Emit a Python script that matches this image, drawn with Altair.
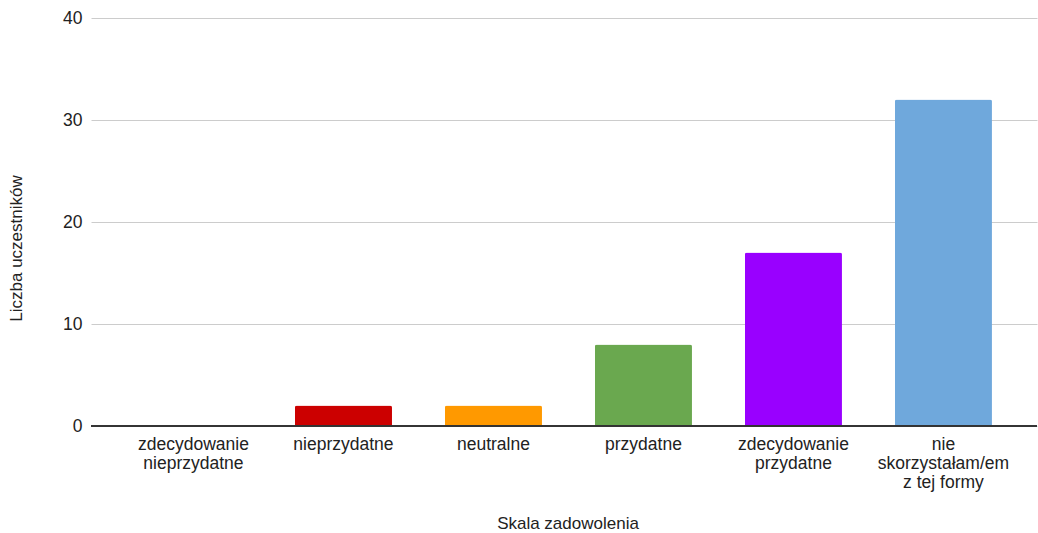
import altair as alt
import pandas as pd

categories = [
    "zdecydowanie|nieprzydatne",
    "nieprzydatne",
    "neutralne",
    "przydatne",
    "zdecydowanie|przydatne",
    "nie|skorzystałam/em|z tej formy",
]
values = [0, 2, 2, 8, 17, 32]
colors = ["#e06666", "#cc0000", "#ff9900", "#6aa84f", "#9900ff", "#6fa8dc"]
y_ticks = [0, 10, 20, 30, 40]

df = pd.DataFrame({"kategoria": categories, "liczba": values})

FONT = "Liberation Sans"
LFS = 17.5
TFS = 17

bars = alt.Chart(df).mark_bar(cornerRadiusTopLeft=2, cornerRadiusTopRight=2).encode(
    x=alt.X(
        "kategoria:N",
        sort=categories,
        scale=alt.Scale(paddingInner=0.353, paddingOuter=0.33, align=0.545),
        axis=alt.Axis(
            title="Skala zadowolenia",
            labelAngle=0,
            labelExpr="split(datum.label, '|')",
            labelLineHeight=19,
            labelPadding=9,
            labelFontSize=LFS,
            labelColor="#222222",
            labelBaseline="top",
            ticks=False,
            domain=False,
            titleFontSize=TFS,
            titleFontWeight="normal",
            titleColor="#222222",
            titleX=476.5,
            titleY=97,
            titleBaseline="middle",
            titleAlign="center",
        ),
    ),
    y=alt.Y(
        "liczba:Q",
        scale=alt.Scale(domain=[0, 40], nice=False),
        axis=alt.Axis(
            title="Liczba uczestników",
            values=y_ticks,
            ticks=False,
            domain=False,
            labelPadding=9,
            labelFontSize=LFS,
            labelColor="#222222",
            gridColor="#cccccc",
            gridWidth=1,
            titleFontSize=TFS,
            titleFontWeight="normal",
            titleColor="#222222",
            titleX=-75,
            titleY=230,
            titleAlign="center",
            titleBaseline="middle",
        ),
    ),
    color=alt.Color(
        "kategoria:N",
        scale=alt.Scale(domain=categories, range=colors),
        legend=None,
    ),
)

zero_line = alt.Chart(df).mark_rule(color="#333333", strokeWidth=1).encode(
    y=alt.datum(0)
)

chart = (
    alt.layer(bars, zero_line)
    .properties(
        width=946,
        height=408,
        autosize=alt.AutoSizeParams(type="none"),
        padding={"left": 91, "top": 18, "right": 1, "bottom": 107},
    )
    .configure(font=FONT)
    .configure_view(stroke=None)
)

chart.save("out.html", embed_options={"renderer": "svg", "actions": False})
